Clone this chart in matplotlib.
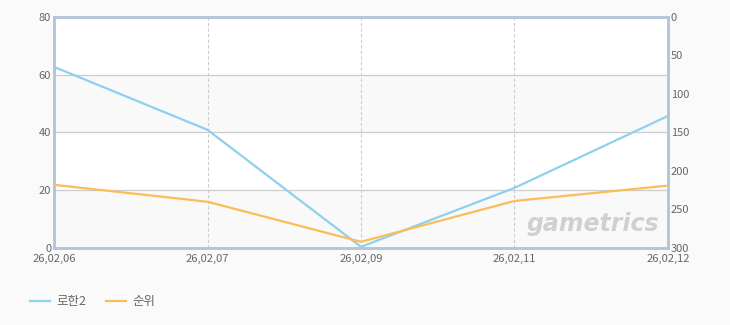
import numpy as np
import matplotlib.pyplot as plt
from matplotlib.patches import Rectangle

plt.rcParams['font.family'] = ['Noto Sans CJK KR', 'DejaVu Sans']

# Datos
fechas = ['26,02,06', '26,02,07', '26,02,09', '26,02,11', '26,02,12']
rohan2 = [62.7, 40.9, 0.4, 20.8, 45.7]
rank = [218, 240, 292, 239, 219]

azul = '#8fd0ef'
naranja = '#fbbd5a'
eje = '#b3c5d9'
texto = '#666666'

fig = plt.figure(figsize=(7.3, 3.25), dpi=100, facecolor='#fafafa')
ax = fig.add_axes([0.074, 0.237, 0.841, 0.711])
ax.set_facecolor('white')
x = np.arange(len(fechas))

# Bandas alternas
for y0 in [0, 40]:
    ax.add_patch(Rectangle((-0.5, y0), len(fechas) + 1, 20, color='#f9f9f9', zorder=0, lw=0))

ax.set_xlim(0, len(fechas) - 1)
ax.set_ylim(0, 80)
ax.set_yticks([0, 20, 40, 60, 80])
ax.set_xticks(x)
ax.set_xticklabels(fechas)
for yv in [20, 40, 60]:
    ax.axhline(yv, color='#cccccc', lw=0.9, zorder=1)
for xv in x[1:-1]:
    ax.axvline(xv, color='#cccccc', lw=0.8, ls=(0, (3, 2)), zorder=1)

ax2 = ax.twinx()
ax2.set_ylim(300, 0)
ax2.set_yticks([0, 50, 100, 150, 200, 250, 300])

l1, = ax.plot(x, rohan2, color=azul, lw=1.6, zorder=3, label='로한2')
l2, = ax2.plot(x, rank, color=naranja, lw=1.6, zorder=3, label='순위')

for a in (ax, ax2):
    for s in a.spines.values():
        s.set_color(eje)
        s.set_linewidth(1.8)
    a.tick_params(length=0, labelsize=8, colors=texto, pad=2)
ax.tick_params(axis='x', pad=4)

# Marca de agua
ax.text(0.985, 0.05, 'gametrics', transform=ax.transAxes, ha='right', va='bottom',
        fontsize=17, fontstyle='italic', fontweight='bold', color='#d0d0d0',
        family='DejaVu Sans', zorder=2)

fig.legend(handles=[l1, l2], loc='lower left', bbox_to_anchor=(0.026, 0.018), ncol=2,
           frameon=False, fontsize=9, labelcolor=texto, handlelength=1.6,
           handletextpad=0.5, columnspacing=1.6)

fig.savefig('out.png', dpi=100, facecolor=fig.get_facecolor())
